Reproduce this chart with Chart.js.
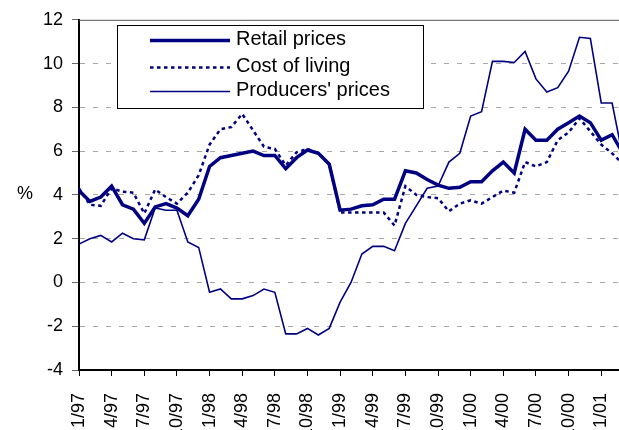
<!DOCTYPE html>
<html>
<head>
<meta charset="utf-8">
<title>Retail prices, cost of living and producers' prices</title>
<script src="https://cdn.jsdelivr.net/npm/chart.js@4.4.1/dist/chart.umd.min.js"></script>
<style>
    html, body { margin: 0; padding: 0; background: #fff; overflow: hidden; }
    /* the plot runs a little past the right edge of the picture, so the canvas is wider and cut off */
    #wrap { width: 619px; height: 430px; overflow: hidden; position: relative; }
</style>
</head>
<body>
<div id="wrap"><canvas id="chart" width="640" height="430"></canvas></div>
<script>
// monthly categories, 1/97 .. 3/01
const months = [
    '1/97', '2/97', '3/97', '4/97', '5/97', '6/97', '7/97', '8/97', '9/97', '10/97', '11/97', '12/97',
    '1/98', '2/98', '3/98', '4/98', '5/98', '6/98', '7/98', '8/98', '9/98', '10/98', '11/98', '12/98',
    '1/99', '2/99', '3/99', '4/99', '5/99', '6/99', '7/99', '8/99', '9/99', '10/99', '11/99', '12/99',
    '1/00', '2/00', '3/00', '4/00', '5/00', '6/00', '7/00', '8/00', '9/00', '10/00', '11/00', '12/00',
    '1/01', '2/01', '3/01'
];

const retailPrices = [
    4.2, 3.7, 3.9, 4.4, 3.55, 3.35, 2.7, 3.45, 3.6, 3.4, 3.05, 3.8,
    5.3, 5.7, 5.8, 5.9, 6.0, 5.8, 5.8, 5.2, 5.7, 6.05, 5.9, 5.4,
    3.3, 3.35, 3.5, 3.55, 3.8, 3.8, 5.1, 5.0, 4.7, 4.45, 4.3, 4.35,
    4.6, 4.6, 5.1, 5.5, 5.0, 7.0, 6.5, 6.5, 7.0, 7.3, 7.6, 7.3,
    6.5, 6.75, 5.9
];

const costOfLiving = [
    4.3, 3.55, 3.5, 4.3, 4.15, 4.1, 3.15, 4.25, 3.9, 3.6, 4.1, 4.9,
    6.3, 7.0, 7.1, 7.7, 6.95, 6.2, 6.1, 5.35, 5.95, 6.1, 5.9, 5.4,
    3.2, 3.2, 3.2, 3.2, 3.2, 2.6, 4.4, 4.0, 3.9, 3.85, 3.25, 3.6,
    3.75, 3.6, 3.9, 4.2, 4.1, 5.5, 5.3, 5.5, 6.5, 6.85, 7.5, 6.9,
    6.3, 5.9, 5.4
];

const producersPrices = [
    1.75, 2.0, 2.15, 1.85, 2.25, 2.0, 1.95, 3.4, 3.3, 3.3, 1.85, 1.6,
    -0.45, -0.3, -0.75, -0.75, -0.6, -0.3, -0.45, -2.35, -2.35, -2.1, -2.4, -2.1,
    -0.9, 0.0, 1.3, 1.65, 1.65, 1.45, 2.7, 3.5, 4.3, 4.4, 5.5, 5.9,
    7.6, 7.8, 10.1, 10.1, 10.05, 10.55, 9.3, 8.7, 8.9, 9.65, 11.2, 11.15,
    8.2, 8.2, 5.7
];

const seriesNames = ['Retail prices', 'Cost of living', "Producers' prices"];

const NAVY = '#000080';
const FONT = '"Liberation Sans", Arial, Helvetica, sans-serif';

// top frame line, boxed legend inside the plot and the horizontal "%" axis title
const legendBox = {
    id: 'legendBox',
    beforeDatasetsDraw(chart) {
        const { ctx, chartArea } = chart;
        ctx.save();
        ctx.strokeStyle = '#555';
        ctx.lineWidth = 1;
        ctx.beginPath();
        ctx.moveTo(chartArea.left, chartArea.top + 0.5);
        ctx.lineTo(chartArea.right, chartArea.top + 0.5);
        ctx.stroke();
        ctx.restore();
    },
    afterDraw(chart) {
        const ctx = chart.ctx;
        const rowsY = [40.5, 67.5, 91.5];
        ctx.save();
        ctx.fillStyle = '#fff';
        ctx.fillRect(117, 25, 306, 83);
        ctx.strokeStyle = '#000';
        ctx.lineWidth = 1;
        ctx.strokeRect(117.5, 25.5, 306, 83);

        chart.data.datasets.forEach((ds, i) => {
            const y = rowsY[i];
            ctx.beginPath();
            ctx.setLineDash(ds.borderDash || []);
            ctx.lineWidth = ds.borderWidth;
            ctx.strokeStyle = ds.borderColor;
            ctx.moveTo(150, y);
            ctx.lineTo(230, y);
            ctx.stroke();
            ctx.setLineDash([]);
            ctx.fillStyle = '#000';
            ctx.font = '20px ' + FONT;
            ctx.textAlign = 'left';
            ctx.textBaseline = 'middle';
            ctx.fillText(ds.label, 236, y - 1);
        });

        ctx.font = '18px ' + FONT;
        ctx.textBaseline = 'middle';
        ctx.fillText('%', 17, 194);
        ctx.restore();
    }
};

const ctx = document.getElementById('chart').getContext('2d');

new Chart(ctx, {
    type: 'line',
    data: {
        labels: months,
        datasets: [
            { label: seriesNames[0], data: retailPrices, borderColor: NAVY, borderWidth: 3.5 },
            { label: seriesNames[1], data: costOfLiving, borderColor: NAVY, borderWidth: 2.5, borderDash: [3.5, 3.5] },
            { label: seriesNames[2], data: producersPrices, borderColor: NAVY, borderWidth: 1.6 }
        ]
    },
    options: {
        responsive: false,
        animation: false,
        layout: { padding: { top: 18, right: 17, left: 0, bottom: 0 } },
        elements: {
            point: { radius: 0 },
            line: { tension: 0, fill: false }
        },
        plugins: {
            legend: { display: false },
            tooltip: { enabled: false }
        },
        scales: {
            x: {
                type: 'category',
                offset: false,
                ticks: {
                    autoSkip: false,
                    minRotation: 90,
                    maxRotation: 90,
                    padding: 17,
                    color: '#000',
                    font: { family: FONT, size: 18 },
                    callback: (v, i) => (i % 3 === 0 ? months[i] : '')
                },
                grid: {
                    drawOnChartArea: false,
                    tickLength: 6,
                    tickColor: c => (c.index % 3 === 0 ? '#000' : 'rgba(0,0,0,0)')
                },
                border: { color: '#000', width: 2 },
                afterFit: s => {
                    s.height = 60;
                    // keep the rotated labels from pushing the plot edges inwards
                    s.paddingLeft = 0;
                    s.paddingRight = 0;
                }
            },
            y: {
                min: -4,
                max: 12,
                ticks: {
                    stepSize: 2,
                    padding: 9,
                    color: '#000',
                    font: { family: FONT, size: 18 }
                },
                grid: {
                    color: c => (c.tick && (c.tick.value === 12 || c.tick.value === -4)) ? 'rgba(0,0,0,0)' : '#a8a8a8',
                    lineWidth: 1,
                    tickLength: 7,
                    tickColor: '#666'
                },
                border: { color: '#000', width: 2, dash: [5, 8] },
                afterFit: s => { s.width = 79; }
            }
        }
    },
    plugins: [legendBox]
});
</script>
</body>
</html>
